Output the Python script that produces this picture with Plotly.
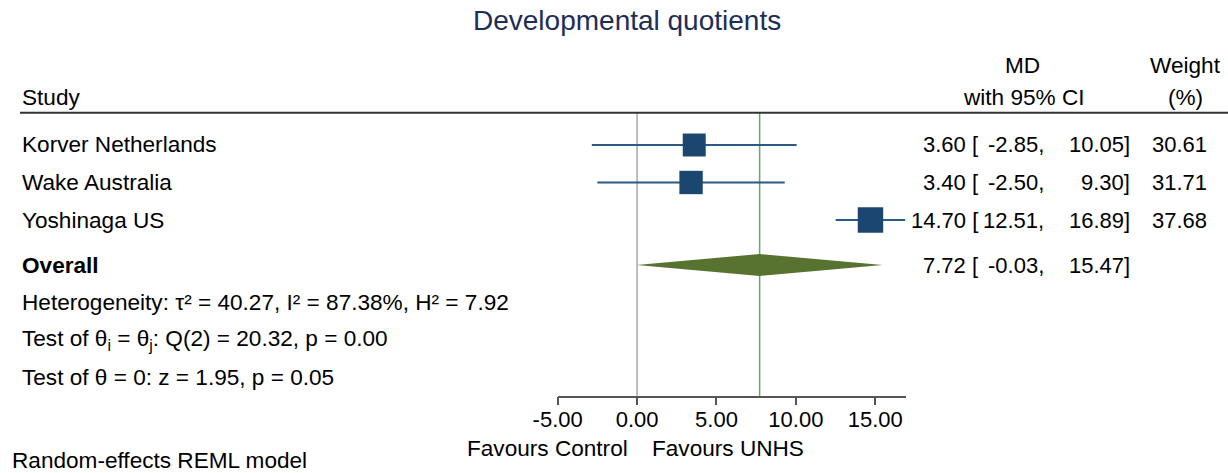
import plotly.graph_objects as go

# ---------------- data ----------------
title = "Developmental quotients"
studies = ["Korver Netherlands", "Wake Australia", "Yoshinaga US"]
md = [3.60, 3.40, 14.70]
ci_lo = [-2.85, -2.50, 12.51]
ci_hi = [10.05, 9.30, 16.89]
weights = [30.61, 31.71, 37.68]
overall_label = "Overall"
overall_md = 7.72
overall_lo = -0.03
overall_hi = 15.47
stats_lines = [
    "Heterogeneity: τ² = 40.27, I² = 87.38%, H² = 7.92",
    "Test of θ<sub>i</sub> = θ<sub>j</sub>: Q(2) = 20.32, p = 0.00",
    "Test of θ = 0: z = 1.95, p = 0.05",
]
tick_vals = [-5, 0, 5, 10, 15]
favours_left = "Favours Control"
favours_right = "Favours UNHS"
model_note = "Random-effects REML model"

# ---------------- layout helpers ----------------
W, H = 1228, 473
FONT = "Liberation Sans, Arial, Helvetica, sans-serif"
FS = 22      # numbers
FL = 22.6    # words

def px(x):
    return x / W

def py(y):
    return 1 - y / H

study_rows = [1, 2, 3]
overall_row = 4.2
stat_rows = [5.2, 6.2, 7.2]

marker_color = "#1b4670"
line_color = "#2a5a86"
diamond_color = "#587330"
ref_green = "#56b35a"

fig = go.Figure()

# CI lines + squares
fig.add_trace(go.Scatter(
    x=md, y=study_rows, mode="markers",
    marker=dict(symbol="square", size=[4.15 * w ** 0.5 for w in weights],
                color=marker_color, opacity=1, line=dict(width=0)),
    error_x=dict(type="data", symmetric=False,
                 array=[h - m for h, m in zip(ci_hi, md)],
                 arrayminus=[m - l for m, l in zip(md, ci_lo)],
                 width=0, thickness=2, color=line_color),
    showlegend=False, hoverinfo="skip", cliponaxis=False,
))

# overall diamond
dh = 0.29
fig.add_trace(go.Scatter(
    x=[overall_lo, overall_md, overall_hi, overall_md, overall_lo],
    y=[overall_row, overall_row - dh, overall_row, overall_row + dh, overall_row],
    mode="lines", fill="toself", fillcolor=diamond_color,
    line=dict(width=0, color=diamond_color),
    showlegend=False, hoverinfo="skip",
))

# reference lines
fig.add_shape(type="line", xref="x", yref="y domain", x0=0, x1=0, y0=0, y1=1,
              line=dict(color="#a8a8a8", width=1.5), layer="below")
fig.add_shape(type="line", xref="x", yref="y domain", x0=overall_md, x1=overall_md,
              y0=0, y1=1, line=dict(color=ref_green, width=1.5), layer="below")
# header rule
fig.add_shape(type="line", xref="paper", yref="paper", x0=px(20), x1=1,
              y0=py(112.7), y1=py(112.7), line=dict(color="#333333", width=2))

ann = []
def text(x, y, s, xanchor="left", yref="paper", size=FS, color="black"):
    ann.append(dict(x=x, y=y, xref="paper", yref=yref, text=s, showarrow=False,
                    xanchor=xanchor, yanchor="middle",
                    font=dict(family=FONT, size=size, color=color)))

# title & headers
text(px(627), py(20), title, xanchor="center", size=28, color="#1e2d58")
text(px(20), py(97), "Study", size=FL)
text(px(1022), py(65), "MD", xanchor="center", size=FL)
text(px(1024), py(97), "with 95% CI", xanchor="center", size=FL)
text(px(1185), py(65), "Weight", xanchor="center", size=FL)
text(px(1185), py(97), "(%)", xanchor="center", size=FL)

# column right edges
C_EST, C_LO, C_HI, C_W = 980, 1046, 1132, 1209

for name, r, m, l, h, w in zip(studies, study_rows, md, ci_lo, ci_hi, weights):
    text(px(20), r, name, yref="y", size=FL)
    text(px(C_EST), r, f"{m:.2f} [", xanchor="right", yref="y")
    text(px(C_LO), r, f"{l:.2f},", xanchor="right", yref="y")
    text(px(C_HI), r, f"{h:.2f}]", xanchor="right", yref="y")
    text(px(C_W), r, f"{w:.2f}", xanchor="right", yref="y")

text(px(20), overall_row, f"<b>{overall_label}</b>", yref="y", size=FL)
text(px(C_EST), overall_row, f"{overall_md:.2f} [", xanchor="right", yref="y")
text(px(C_LO), overall_row, f"{overall_lo:.2f},", xanchor="right", yref="y")
text(px(C_HI), overall_row, f"{overall_hi:.2f}]", xanchor="right", yref="y")

for s, r in zip(stats_lines, stat_rows):
    text(px(20), r, s, yref="y", size=FL)

text(px(630), py(448), favours_left, xanchor="right", size=FL)
text(px(650), py(448), favours_right, xanchor="left", size=FL)
text(px(10), py(460), model_note, size=FL)

fig.update_layout(
    width=W, height=H, autosize=False,
    margin=dict(l=0, r=0, t=0, b=0, pad=0, autoexpand=False),
    paper_bgcolor="white", plot_bgcolor="white",
    annotations=ann,
    xaxis=dict(domain=[px(557.7), px(905.7)], range=[-5, 16.92],
               showgrid=False, zeroline=False, showline=True,
               linecolor="#555555", linewidth=1.5,
               ticks="outside", ticklen=8, tickwidth=1.5, tickcolor="#555555",
               tickvals=tick_vals, ticktext=[f"{t:.2f}" for t in tick_vals],
               tickfont=dict(family=FONT, size=FS, color="black"),
               ticklabelstandoff=-5, automargin=False,
               fixedrange=True),
    yaxis=dict(domain=[py(395.7), py(112.7)], range=[7.685, 0.139],
               showgrid=False, zeroline=False, showline=False,
               showticklabels=False, ticks="", automargin=False,
               fixedrange=True),
    showlegend=False,
)

fig.write_html(
    "out.html",
    config={"displayModeBar": False},
    post_script="document.body.style.margin='0';document.body.style.overflow='hidden';",
)
